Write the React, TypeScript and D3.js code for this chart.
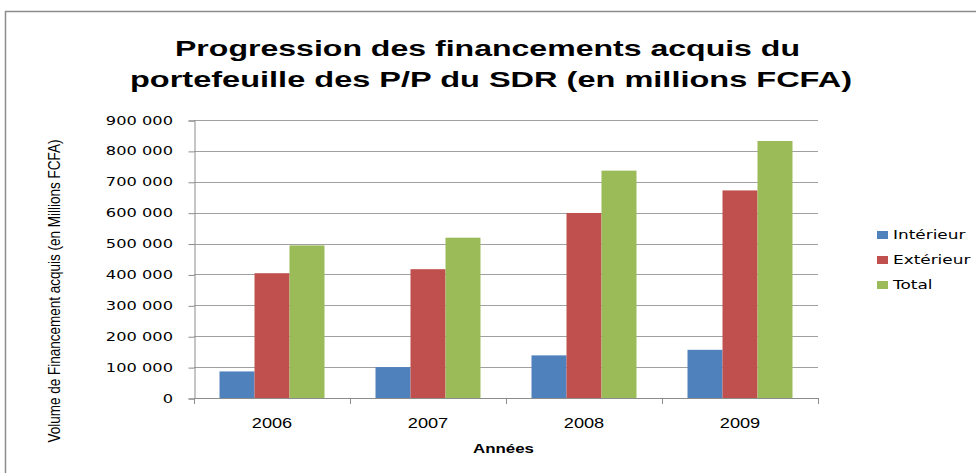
import React, { useEffect, useRef } from 'react';
import * as d3 from 'd3';

const years = ['2006', '2007', '2008', '2009'];
const seriesNames = ['Intérieur', 'Extérieur', 'Total'];
const interieur = [86000, 100000, 138000, 156000];
const exterieur = [404000, 417000, 599000, 672000];
const total = [494000, 519000, 736000, 832000];
const yTicks = [0, 100000, 200000, 300000, 400000, 500000, 600000, 700000, 800000, 900000];
const colors = ['#4F81BD', '#C0504D', '#9BBB59'];

// l'image d'origine est étirée horizontalement
const SX = 1.3;

const App = () => {
  const ref = useRef<SVGSVGElement | null>(null);

  useEffect(() => {
    const width = 976;
    const height = 473;
    const margin = { left: 194, right: 158, top: 120, bottom: 75 };

    const svg = d3.select(ref.current);
    svg.selectAll('*').remove();
    svg.attr('width', width).attr('height', height);

    svg.append('rect').attr('width', width).attr('height', height).attr('fill', '#fff');

    // cadre du graphique (sort de l'image à droite et en bas)
    svg
      .append('rect')
      .attr('x', 5.5)
      .attr('y', 11.5)
      .attr('width', width + 10)
      .attr('height', height + 10)
      .attr('fill', 'none')
      .attr('stroke', '#8c8c8c')
      .attr('stroke-width', 1.5);

    // titre
    const titleLines = [
      { t: 'Progression des financements acquis du', x: 487.5, y: 55.5, w: 625 },
      { t: 'portefeuille des P/P du SDR (en millions FCFA)', x: 491, y: 87, w: 722 },
    ];
    svg
      .append('g')
      .selectAll('text')
      .data(titleLines)
      .enter()
      .append('text')
      .attr('x', (d) => d.x)
      .attr('y', (d) => d.y)
      .attr('text-anchor', 'middle')
      .attr('textLength', (d) => d.w)
      .attr('lengthAdjust', 'spacingAndGlyphs')
      .style('font-family', '"Liberation Sans", Arial, sans-serif')
      .style('font-weight', 'bold')
      .style('font-size', '22px')
      .text((d) => d.t);

    const x0 = d3
      .scaleBand()
      .domain(years)
      .range([margin.left, width - margin.right])
      .paddingInner(0.327)
      .paddingOuter(0.1635);
    const x1 = d3.scaleBand().domain(seriesNames).range([0, x0.bandwidth()]);
    const y = d3
      .scaleLinear()
      .domain([0, 900000])
      .range([height - margin.bottom, margin.top]);

    const fmt = (v: number) => d3.format(',')(v).replace(/,/g, ' ');

    // grille
    svg
      .append('g')
      .selectAll('line')
      .data(yTicks.slice(1))
      .enter()
      .append('line')
      .attr('x1', margin.left)
      .attr('x2', width - margin.right)
      .attr('y1', (d) => Math.round(y(d)) + 0.5)
      .attr('y2', (d) => Math.round(y(d)) + 0.5)
      .attr('stroke', '#a0a0a0')
      .attr('stroke-width', 1);

    // axe Y
    const yAxis = svg
      .append('g')
      .attr('transform', `translate(${margin.left + 0.5},0.5)`)
      .call(
        d3
          .axisLeft(y)
          .tickValues(yTicks)
          .tickFormat(() => '')
          .tickSize(6)
      );
    yAxis.select('.domain').attr('stroke', '#8c8c8c');
    yAxis.selectAll('line').attr('stroke', '#8c8c8c');
    svg
      .append('g')
      .selectAll('text')
      .data(yTicks)
      .enter()
      .append('text')
      .attr('transform', (d) => `translate(173,${y(d) + 4.5}) scale(${SX},1)`)
      .attr('text-anchor', 'end')
      .style('font-family', '"DejaVu Sans", Verdana, sans-serif')
      .style('font-size', '12.5px')
      .text((d) => fmt(d));

    // barres
    const series = [interieur, exterieur, total];
    const groups = svg
      .append('g')
      .selectAll('g')
      .data(years)
      .enter()
      .append('g')
      .attr('transform', (d) => `translate(${x0(d)},0)`);

    groups
      .selectAll('rect')
      .data((d, i) => seriesNames.map((s, k) => ({ s, k, v: series[k][i] })))
      .enter()
      .append('rect')
      .attr('x', (d) => x1(d.s) as number)
      .attr('width', x1.bandwidth())
      .attr('y', (d) => y(d.v))
      .attr('height', (d) => y(0) - y(d.v))
      .attr('fill', (d) => colors[d.k]);

    // axe X
    const xAxisY = y(0);
    svg
      .append('line')
      .attr('x1', margin.left)
      .attr('x2', width - margin.right)
      .attr('y1', xAxisY + 0.5)
      .attr('y2', xAxisY + 0.5)
      .attr('stroke', '#8c8c8c');
    const bounds = years.map((d) => (x0(d) as number) - (x0.step() - x0.bandwidth()) / 2);
    bounds.push(width - margin.right);
    svg
      .append('g')
      .selectAll('line')
      .data(bounds)
      .enter()
      .append('line')
      .attr('x1', (d) => Math.round(d) + 0.5)
      .attr('x2', (d) => Math.round(d) + 0.5)
      .attr('y1', xAxisY)
      .attr('y2', xAxisY + 6)
      .attr('stroke', '#8c8c8c');
    svg
      .append('g')
      .selectAll('text')
      .data(years)
      .enter()
      .append('text')
      .attr(
        'transform',
        (d) => `translate(${(x0(d) as number) + x0.bandwidth() / 2},428) scale(${SX},1)`
      )
      .attr('text-anchor', 'middle')
      .style('font-family', '"Liberation Sans", Arial, sans-serif')
      .style('font-size', '14px')
      .text((d) => d);

    // titres des axes
    svg
      .append('text')
      .attr('transform', `translate(503.5,453) scale(${SX},1)`)
      .attr('text-anchor', 'middle')
      .style('font-family', '"Liberation Sans", Arial, sans-serif')
      .style('font-weight', 'bold')
      .style('font-size', '13px')
      .text('Années');
    svg
      .append('text')
      .attr('transform', `translate(60,291) scale(${SX},1) rotate(-90)`)
      .attr('text-anchor', 'middle')
      .attr('textLength', 303)
      .attr('lengthAdjust', 'spacingAndGlyphs')
      .style('font-family', '"Liberation Sans", Arial, sans-serif')
      .style('font-size', '13px')
      .text('Volume de Financement acquis (en Millions FCFA)');

    // légende
    const legend = svg
      .append('g')
      .selectAll('g')
      .data(seriesNames)
      .enter()
      .append('g')
      .attr('transform', (d, i) => `translate(877,${239 + i * 25})`);
    legend
      .append('rect')
      .attr('y', -8)
      .attr('width', 11)
      .attr('height', 8)
      .attr('fill', (d, i) => colors[i]);
    legend
      .append('text')
      .attr('transform', `translate(16,0) scale(${SX},1)`)
      .style('font-family', '"DejaVu Sans", Verdana, sans-serif')
      .style('font-size', '13px')
      .text((d) => d);
  }, []);

  return <svg ref={ref} style={{ position: 'absolute', left: 0, top: 0 }} />;
};

export default App;
